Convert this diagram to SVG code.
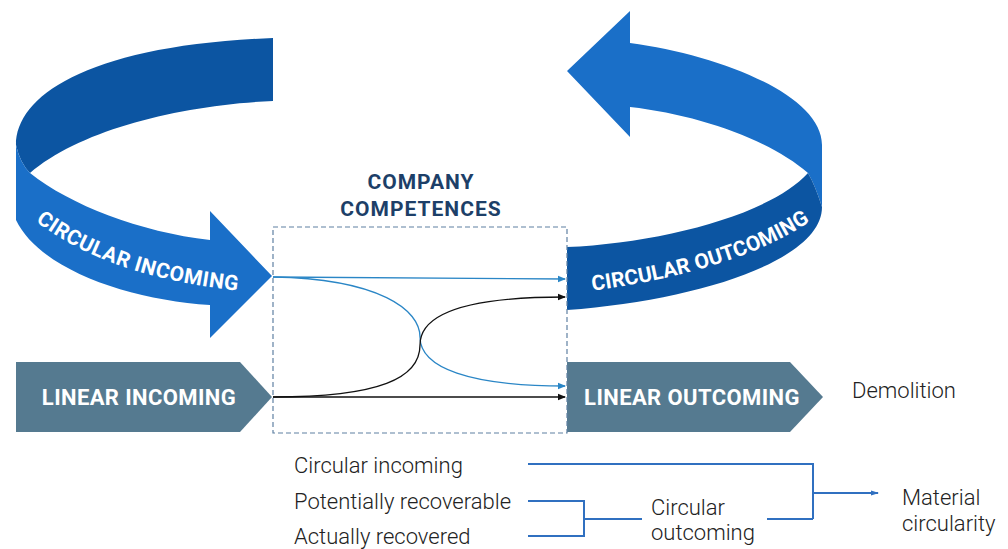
<svg xmlns="http://www.w3.org/2000/svg" width="1008" height="549" viewBox="0 0 1008 549">
<style>
.light{fill:#1a6fc8}
.dark{fill:#0c55a2}
.slate{fill:#557a90}
.big{font-family:Roboto,"Liberation Sans",sans-serif;font-weight:700;fill:#ffffff}
.band{font-size:21px;letter-spacing:0.5px}
.bandr{font-size:21px;letter-spacing:0.1px}
.lin{font-size:22px;letter-spacing:0.4px}
.title{font-family:Roboto,"Liberation Sans",sans-serif;font-weight:700;font-size:21px;letter-spacing:1px;fill:#1d3f68}
.lbl{font-family:Roboto,"Liberation Sans",sans-serif;font-weight:300;font-size:22px;fill:#222}
.leg{fill:none;stroke:#3070c0;stroke-width:2}
.bl{fill:none;stroke:#2a86c6;stroke-width:1.3}
.bk{fill:none;stroke:#111;stroke-width:1.3}
</style>
<defs>
<marker id="mb" markerWidth="8" markerHeight="8" refX="7" refY="4" orient="auto" markerUnits="userSpaceOnUse"><path d="M0,0.8 L8,4 L0,7.2 Z" fill="#2a86c6"/></marker>
<marker id="mk" markerWidth="8" markerHeight="8" refX="7" refY="4" orient="auto" markerUnits="userSpaceOnUse"><path d="M0,0.8 L8,4 L0,7.2 Z" fill="#111"/></marker>
<marker id="ml" markerWidth="8" markerHeight="8" refX="7" refY="4" orient="auto" markerUnits="userSpaceOnUse"><path d="M0,1.5 L8,4 L0,6.5 Z" fill="#3070c0"/></marker>
<path id="pIn" d="M26,214 C86,262 158,283 250,292"/>
<path id="pOut" d="M590,291 C680,279 758,257 812,220"/>
</defs>

<g id="circular-incoming">
<path class="dark" d="M273,38 C90,45 16,95 16,145 Q20,163 30,173 C80,130 180,105 273,101 Z"/>
<path class="light" d="M16,145 Q20,163 30,173 C70,205 140,232 210,240 L210,211 L272,276 L210,338 L210,305 C130,300 40,270 16,220 Z"/>
<text class="big band"><textPath href="#pIn" startOffset="50%" text-anchor="middle">CIRCULAR INCOMING</textPath></text>
</g>

<g id="circular-outcoming">
<path class="light" d="M567,71 L630,11 L630,43 C720,55 822,95 822,145 L822,207 Q815,185 808,173 C770,140 700,115 630,107 L630,137 Z"/>
<path class="dark" d="M808,173 Q815,185 822,207 C822,260 700,300 567,310 L567,247 C660,243 770,215 808,173 Z"/>
<text class="big bandr"><textPath href="#pOut" startOffset="50%" text-anchor="middle">CIRCULAR OUTCOMING</textPath></text>
</g>

<g id="linear-incoming">
<path class="slate" d="M16,362 L240,362 L272,397 L240,432 L16,432 Z"/>
<text class="big lin" x="139" y="405" text-anchor="middle">LINEAR INCOMING</text>
</g>

<g id="linear-outcoming">
<path class="slate" d="M567,362 L790,362 L823,397 L790,432 L567,432 Z"/>
<text class="big lin" x="692" y="405" text-anchor="middle">LINEAR OUTCOMING</text>
</g>

<g id="demolition">
<text class="lbl" x="852" y="398">Demolition</text>
</g>

<g id="company-competences">
<rect x="273" y="227" width="294" height="206" fill="none" stroke="#5f80a2" stroke-width="1.2" stroke-dasharray="5,3"/>
<text class="title" x="421" y="189" text-anchor="middle">COMPANY</text>
<text class="title" x="421" y="216" text-anchor="middle">COMPETENCES</text>
</g>

<g id="connectors">
<path class="bl" d="M273,277 L565,279" marker-end="url(#mb)"/>
<path class="bl" d="M273,277 C380,279 420,310 420,337 C420,368 470,386 565,386" marker-end="url(#mb)"/>
<path class="bk" d="M273,397 C380,397 420,378 420,345 C420,312 470,297 565,297" marker-end="url(#mk)"/>
<path class="bk" d="M273,397 L565,397" marker-end="url(#mk)"/>
</g>

<g id="legend">
<text class="lbl" x="294" y="473">Circular incoming</text>
<text class="lbl" x="294" y="509">Potentially recoverable</text>
<text class="lbl" x="294" y="544">Actually recovered</text>
<text class="lbl" x="651" y="515">Circular</text>
<text class="lbl" x="651" y="540">outcoming</text>
<text class="lbl" x="902" y="505">Material</text>
<text class="lbl" x="902" y="531">circularity</text>
</g>

<g id="legend-connectors">
<path class="leg" d="M528,464 L813,464 L813,519"/>
<path class="leg" d="M528,501 L584,501 L584,536 L528,536"/>
<path class="leg" d="M584,519 L642,519"/>
<path class="leg" d="M767,519 L813,519"/>
<path class="leg" d="M813,493 L878,493" stroke-width="1.6" marker-end="url(#ml)"/>
</g>
</svg>
